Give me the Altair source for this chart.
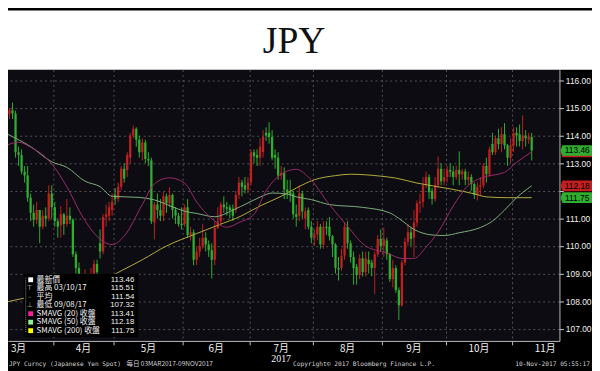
import altair as alt
import pandas as pd

TITLE = "JPY"
FIRST_DAY = 6  # trading-day index of first candle (1 Mar 2017 = 0)

opens = [114.38, 114.95, 114.78, 114.92, 114.80, 113.40, 113.30, 112.70, 112.55, 111.75,
         111.20, 110.95, 111.30, 110.70, 111.10, 111.00, 111.90, 111.40, 110.90, 110.75,
         111.15, 110.80, 111.10, 110.95, 109.70, 109.20, 108.90, 108.60, 108.95, 108.50,
         108.90, 109.35, 110.10, 109.80, 111.05, 111.10, 111.30, 111.85, 111.70, 112.15,
         112.80, 112.75, 113.20, 114.00, 114.25, 113.85, 113.40, 113.75, 113.15, 113.10,
         110.85, 111.50, 111.30, 111.10, 111.80, 111.55, 111.85, 111.30, 111.10, 110.80,
         110.80, 111.40, 110.40, 110.50, 109.50, 109.80, 110.00, 110.30, 110.05, 109.85,
         109.50, 110.65, 110.90, 111.50, 111.40, 111.40, 111.35, 111.30, 111.85, 112.30,
         112.20, 112.05, 112.30, 113.40, 113.30, 113.20, 113.40, 114.10, 114.10, 113.95,
         113.30, 113.20, 112.55, 112.65, 112.05, 111.95, 111.90, 111.15, 111.10, 111.90,
         111.00, 111.30, 110.70, 110.30, 110.40, 110.70, 110.05, 110.70, 110.70, 110.35,
         110.05, 109.20, 109.20, 109.65, 110.70, 110.10, 109.60, 109.25, 108.95, 109.55,
         109.05, 109.50, 109.40, 109.20, 109.70, 110.25, 110.00, 110.20, 109.70, 108.80,
         109.20, 108.40, 107.85, 109.40, 110.15, 110.50, 110.30, 110.85, 111.55, 111.60,
         112.20, 112.50, 112.00, 111.70, 112.20, 112.80, 112.35, 112.50, 112.75, 112.70,
         112.50, 112.75, 112.60, 112.70, 112.40, 112.50, 112.25, 111.85, 112.15, 112.20,
         112.90, 112.60, 113.70, 113.40, 113.90, 113.70, 114.05, 113.65, 113.20, 113.65,
         114.10, 114.05, 113.80, 114.00, 113.85, 113.95]
highs = [115.10, 115.51, 115.00, 115.20, 114.90, 113.60, 113.50, 112.90, 112.90, 111.90,
         111.50, 111.60, 111.30, 111.30, 111.40, 112.20, 112.20, 111.60, 111.00, 111.45,
         111.20, 111.70, 111.40, 111.00, 109.80, 109.40, 109.00, 109.15, 109.00, 109.20,
         109.50, 109.50, 110.60, 111.15, 111.50, 111.60, 111.90, 112.10, 112.30, 112.90,
         113.00, 113.40, 114.10, 114.37, 114.30, 114.00, 113.90, 113.85, 113.40, 113.20,
         111.60, 111.90, 111.70, 111.95, 111.90, 112.13, 111.90, 111.40, 111.20, 111.40,
         111.50, 111.70, 110.70, 110.60, 110.00, 110.30, 110.80, 110.50, 110.20, 110.10,
         110.90, 111.40, 111.60, 111.80, 111.60, 111.50, 111.50, 112.00, 112.50, 112.40,
         112.50, 112.50, 113.50, 113.50, 113.50, 113.90, 114.20, 114.30, 114.49, 114.20,
         113.50, 113.40, 112.90, 112.85, 112.40, 112.40, 112.00, 111.50, 112.20, 112.00,
         111.40, 111.40, 110.90, 110.60, 110.90, 110.80, 110.90, 110.90, 111.05, 110.40,
         110.10, 109.60, 109.90, 110.85, 110.90, 110.20, 109.80, 109.35, 109.70, 109.80,
         109.80, 109.80, 109.50, 109.80, 110.40, 110.60, 110.67, 110.30, 109.75, 109.50,
         109.30, 108.50, 109.50, 110.30, 110.80, 110.70, 111.30, 111.65, 111.90, 112.50,
         112.70, 112.60, 112.10, 112.50, 113.25, 113.00, 112.80, 112.90, 113.00, 112.90,
         112.90, 113.43, 112.80, 112.80, 112.70, 112.60, 112.30, 112.30, 112.50, 113.00,
         113.20, 113.60, 114.10, 114.00, 114.25, 114.30, 114.45, 113.70, 113.90, 114.30,
         114.30, 114.40, 114.73, 114.20, 114.10, 114.10]
lows = [114.30, 114.60, 114.60, 114.60, 113.20, 112.90, 112.60, 112.30, 111.60, 110.90,
        110.70, 110.80, 110.10, 110.60, 110.70, 110.90, 111.00, 110.70, 110.30, 110.30,
        110.40, 110.70, 110.80, 109.60, 109.00, 108.70, 108.15, 108.30, 108.20, 108.30,
        108.60, 108.90, 109.55, 109.70, 110.70, 110.90, 111.10, 111.50, 111.60, 112.00,
        112.30, 112.50, 113.00, 113.90, 113.60, 113.20, 113.10, 113.00, 112.90, 110.80,
        110.24, 111.00, 110.90, 110.90, 111.20, 111.40, 111.00, 110.80, 110.70, 110.60,
        110.70, 110.30, 110.20, 109.30, 109.30, 109.60, 109.90, 109.80, 109.60, 108.82,
        109.30, 110.60, 110.80, 111.20, 111.10, 111.00, 110.90, 111.20, 111.70, 111.80,
        111.90, 111.90, 112.20, 113.00, 112.90, 112.90, 113.20, 113.80, 113.70, 113.10,
        112.80, 112.40, 112.40, 111.70, 111.70, 111.60, 111.00, 110.70, 110.90, 111.00,
        110.60, 110.60, 110.10, 110.00, 110.20, 109.90, 109.90, 110.40, 110.20, 109.60,
        109.00, 108.75, 109.10, 109.50, 109.90, 109.40, 108.60, 108.60, 108.80, 108.90,
        108.90, 109.00, 108.90, 108.26, 109.60, 109.80, 109.60, 109.50, 108.70, 108.50,
        108.30, 107.32, 107.80, 109.30, 110.00, 110.00, 109.60, 110.70, 111.20, 111.40,
        112.10, 111.70, 111.50, 111.60, 112.10, 112.20, 112.20, 112.30, 112.50, 112.20,
        112.40, 112.20, 112.40, 112.20, 112.20, 112.00, 111.70, 111.65, 111.80, 112.10,
        112.30, 112.50, 113.30, 113.30, 113.50, 113.40, 113.50, 112.90, 113.00, 113.40,
        113.60, 113.60, 113.50, 113.60, 113.70, 113.10]
closes = [114.95, 114.82, 114.92, 114.80, 113.40, 113.30, 112.70, 112.55, 111.75, 111.20,
          110.95, 111.30, 110.70, 111.10, 111.00, 111.90, 111.40, 110.90, 110.70, 111.15,
          110.80, 111.10, 110.95, 109.70, 109.20, 108.90, 108.60, 108.95, 108.50, 108.90,
          109.35, 109.05, 109.80, 111.05, 111.15, 111.40, 111.60, 111.70, 112.15, 112.80,
          112.45, 113.30, 114.00, 114.25, 113.85, 113.40, 113.75, 113.15, 113.10, 110.90,
          111.50, 111.30, 111.10, 111.80, 111.55, 111.85, 111.30, 111.10, 110.80, 110.75,
          111.40, 110.40, 110.50, 109.50, 109.80, 110.00, 110.30, 110.05, 109.85, 109.50,
          110.65, 110.90, 111.50, 111.40, 111.35, 111.30, 111.10, 111.85, 112.30, 112.15,
          112.05, 112.30, 113.40, 113.25, 113.20, 113.60, 113.95, 114.00, 113.95, 113.20,
          113.20, 112.55, 112.65, 112.05, 111.95, 111.85, 111.15, 111.05, 111.90, 111.25,
          111.25, 110.70, 110.30, 110.40, 110.70, 110.05, 110.70, 110.65, 110.35, 110.05,
          109.20, 109.15, 109.65, 110.70, 110.10, 109.60, 109.20, 108.95, 109.55, 109.05,
          109.55, 109.35, 109.20, 109.70, 110.25, 110.00, 110.25, 109.70, 108.80, 109.20,
          108.40, 107.85, 109.40, 110.15, 110.50, 110.25, 110.85, 111.55, 111.60, 112.20,
          112.50, 111.95, 111.70, 112.20, 112.80, 112.35, 112.50, 112.75, 112.70, 112.50,
          112.75, 112.60, 112.70, 112.40, 112.50, 112.25, 111.85, 112.15, 112.20, 112.90,
          112.60, 113.50, 113.40, 113.90, 113.70, 114.05, 113.65, 113.20, 113.65, 114.10,
          114.00, 113.80, 114.00, 113.90, 113.95, 113.46]
days = list(range(FIRST_DAY, FIRST_DAY + len(closes)))

# moving averages (trading-day index, value)
ma20_days = [6, 11, 15, 21, 27, 32, 38, 42, 46, 52, 56, 61, 66, 70, 76, 80, 84, 89, 93, 99,
             103, 107, 114, 120, 126, 133, 138, 142, 146, 150, 155, 160, 165, 172, 176, 181]
ma20_vals = [113.60, 113.76, 113.58, 113.10, 112.15, 111.10, 110.25, 110.05, 110.36, 111.50,
             112.25, 112.47, 112.28, 111.60, 110.90, 110.68, 110.85, 111.15, 112.00, 112.66,
             112.78, 112.50, 111.50, 110.71, 110.00, 109.75, 109.55, 109.55, 109.96, 110.50,
             111.45, 112.20, 112.49, 112.67, 113.03, 113.41]
ma50_days = [6, 15, 22, 27, 33, 38, 42, 51, 56, 62, 66, 70, 76, 82, 87, 91, 95, 100, 103, 108,
             114, 125, 134, 137, 142, 148, 152, 157, 164, 168, 172, 176, 181]
ma50_vals = [114.12, 113.60, 113.05, 112.85, 112.35, 112.15, 111.80, 111.76, 111.67, 111.42,
             111.26, 111.18, 111.06, 111.30, 111.56, 111.77, 111.92, 111.88, 111.78, 111.68,
             111.50, 111.40, 111.20, 111.00, 110.60, 110.40, 110.38, 110.48, 110.67, 110.90,
             111.30, 111.75, 112.18]
ma200_days = [6, 21, 38, 45, 52, 60, 70, 77, 85, 91, 98, 103, 109, 116, 121, 131, 136, 143,
              154, 162, 166, 173, 181]
ma200_vals = [107.95, 108.30, 108.70, 109.10, 109.50, 110.00, 110.45, 110.75, 111.10, 111.45,
              111.80, 112.10, 112.40, 112.55, 112.60, 112.53, 112.46, 112.28, 112.07, 111.89,
              111.78, 111.75, 111.75]

month_labels = ["3月", "4月", "5月", "6月", "7月", "8月", "9月", "10月", "11月"]
month_mid = [11, 32.5, 54, 76.5, 98, 120, 142, 163.5, 185.5]
month_starts = [22.5, 42.5, 65.5, 87.5, 108.5, 131.5, 152.5, 174.5]
year_label = ["2017"]
year_mid = [98]
price_ticks = [107, 108, 109, 110, 111, 112, 113, 114, 115, 116]

legend_labels = ["最新價", "最高 03/10/17", "平均", "最低 09/08/17",
                 "SMAVG (20) 收盤", "SMAVG (50) 收盤", "SMAVG (200) 收盤"]
legend_values = ["113.46", "115.51", "111.54", "107.32", "113.41", "112.18", "111.75"]
legend_glyphs = ["", "T", "–", "⊥", "", "", ""]

box_values = [113.41, 113.46, 112.18, 111.75]
box_kinds = ["ma20", "last", "ma50", "ma200"]

footer_left = "JPY Curncy (Japanese Yen Spot)"
footer_mid = "每日 03MAR2017-09NOV2017"
footer_copy = "Copyright© 2017 Bloomberg Finance L.P."
footer_time = "10-Nov-2017 05:55:17"

# ---------------- styling ----------------
RED, GREEN = "#ff2626", "#3ef03e"
RED_W, GREEN_W = "#c02020", "#2fae2f"
C20, C50, C200 = "#9c2c6a", "#7fb07f", "#b6ae3e"
GRID = "#555555"
W, H = 559, 275                      # plot area
PAD_T, PAD_R, PAD_B = 60, 33, 28     # whole chart = 592 x 363

x_scale = alt.Scale(domain=[7.5, 190.2], nice=False, zero=False, padding=0)
y_scale = alt.Scale(domain=[106.56, 116.39], nice=False, zero=False, padding=0)
x_axis = alt.Axis(values=month_starts, labels=False, title=None, ticks=True, tickSize=4,
                  tickColor="#bbbbbb", domainColor="#bbbbbb", grid=True, gridColor=GRID,
                  gridDash=[2, 3], gridWidth=1)
y_axis = alt.Axis(orient="right", values=price_ticks, format=".2f", title=None,
                  labelExpr="datum.value == 112 ? '' : datum.label",
                  labelColor="#f0f0f0", labelFont="Liberation Sans", labelFontSize=8.5,
                  labelPadding=2, tickSize=4, tickColor="#cccccc", domainColor="#bbbbbb",
                  grid=True, gridColor=GRID, gridDash=[2, 3], gridWidth=1)


def X(field):
    return alt.X(f"{field}:Q", scale=x_scale, axis=x_axis)


def Y(field):
    return alt.Y(f"{field}:Q", scale=y_scale, axis=y_axis)


candles = pd.DataFrame({"n": days, "open": opens, "high": highs, "low": lows, "close": closes})
base = alt.Chart(candles).transform_calculate(
    dir="datum.close >= datum.open ? 'up' : 'down'")

wicks = base.mark_rule(strokeWidth=1, clip=True).encode(
    x=X("n"), y=Y("low"), y2="high:Q",
    color=alt.Color("dir:N", scale=alt.Scale(domain=["up", "down"], range=[RED_W, GREEN_W]),
                    legend=None))
bodies = base.mark_bar(width=2.3, clip=True).encode(
    x=X("n"), y=Y("open"), y2="close:Q",
    color=alt.Color("dir:N", scale=alt.Scale(domain=["up", "down"], range=[RED, GREEN]),
                    legend=None))


def ma_layer(d, v, color):
    df = pd.DataFrame({"n": d, "val": v})
    return alt.Chart(df).mark_line(color=color, strokeWidth=1, clip=True,
                                   interpolate="monotone").encode(x=X("n"), y=Y("val"))


ma200 = ma_layer(ma200_days, ma200_vals, C200)
ma50 = ma_layer(ma50_days, ma50_vals, C50)
ma20 = ma_layer(ma20_days, ma20_vals, C20)

months_df = pd.DataFrame({"mid": month_mid, "label": month_labels})
months = alt.Chart(months_df).mark_text(color="#f2f2f2", font="Noto Sans CJK TC", fontSize=10,
                                        baseline="middle", align="center").encode(
    x=X("mid"), y=alt.value(H + 8), text="label:N")
year_df = pd.DataFrame({"mid": year_mid, "label": year_label})
year = alt.Chart(year_df).mark_text(color="#f2f2f2", font="Liberation Serif", fontSize=10,
                                    baseline="middle", align="center").encode(
    x=X("mid"), y=alt.value(H + 18), text="label:N")

one = pd.DataFrame({"k": [0]})

# white band with title above the Bloomberg panel
white_band = alt.Chart(one).mark_rect(color="#ffffff").encode(
    x=alt.value(0), x2=alt.value(W + PAD_R), y=alt.value(-PAD_T), y2=alt.value(0))
title = alt.Chart(pd.DataFrame({"t": [TITLE]})).mark_text(
    font="Liberation Serif", fontSize=38, color="#111111", align="center",
    baseline="alphabetic").encode(x=alt.value(290), y=alt.value(-17), text="t:N")

# right-axis value boxes
boxes_df = pd.DataFrame({"val": box_values, "kind": box_kinds,
                         "label": [f"{v:.2f}" for v in box_values]})
box_shape = "M-1.12,0L-1,-0.36L1,-0.36L1,0.36L-1,0.36Z"
boxes = alt.Chart(boxes_df).mark_point(shape=box_shape, filled=True, size=900, opacity=1,
                                       strokeWidth=0).encode(
    x=alt.value(W + 18), y=Y("val"),
    color=alt.Color("kind:N", scale=alt.Scale(domain=["ma20", "last", "ma50", "ma200"],
                                              range=["#e0288c", "#ffffff", "#8cf08c", "#ffff33"]),
                    legend=None))
box_text = alt.Chart(boxes_df).transform_filter("datum.kind != 'ma20'").mark_text(
    font="Liberation Sans", fontSize=8.5, color="#000000", align="center",
    baseline="middle").encode(x=alt.value(W + 18), y=Y("val"), text="label:N")

# legend box (bottom-left, inside the plot)
legend_layers = [
    alt.Chart(one).mark_rect(color="#000000").encode(
        x=alt.value(16), x2=alt.value(132), y=alt.value(207), y2=alt.value(271)),
    alt.Chart(one).mark_rule(color="#888888", strokeDash=[1, 1], strokeWidth=1).encode(
        x=alt.value(18), y=alt.value(211), y2=alt.value(266)),
]
row_y0, row_dy = 213, 8.6
square_colors = ["#ffffff", None, None, None, "#ff1aa0", "#8cf58c", "#ffff00"]
for i, (lab, val, gly) in enumerate(zip(legend_labels, legend_values, legend_glyphs)):
    ry = row_y0 + i * row_dy
    rowdf = pd.DataFrame({"lab": [lab], "val": [val], "gly": [gly]})
    legend_layers.append(alt.Chart(rowdf).mark_text(
        font="Noto Sans CJK TC", fontSize=8, color="#f0f0f0", align="left",
        baseline="middle").encode(x=alt.value(29), y=alt.value(ry), text="lab:N"))
    legend_layers.append(alt.Chart(rowdf).mark_text(
        font="Liberation Sans", fontSize=8, color="#f0f0f0", align="right",
        baseline="middle").encode(x=alt.value(128), y=alt.value(ry), text="val:N"))
    if square_colors[i]:
        legend_layers.append(alt.Chart(rowdf).mark_square(
            color=square_colors[i], size=24, opacity=1, filled=True).encode(
            x=alt.value(23), y=alt.value(ry)))
    elif gly:
        legend_layers.append(alt.Chart(rowdf).mark_text(
            font="DejaVu Sans", fontSize=7, color="#999999", align="center",
            baseline="middle").encode(x=alt.value(22), y=alt.value(ry), text="gly:N"))

# footer
foot_y = H + 23
foot_style = dict(font="DejaVu Sans Mono", fontSize=6.3, color="#d0d0d0", baseline="middle")
footers = [
    alt.Chart(pd.DataFrame({"t": [footer_left]})).mark_text(align="left", **foot_style).encode(
        x=alt.value(1), y=alt.value(foot_y), text="t:N"),
    alt.Chart(pd.DataFrame({"t": [footer_mid]})).mark_text(
        align="left", font="Noto Sans CJK TC", fontSize=6.6, color="#d0d0d0",
        baseline="middle").encode(x=alt.value(120), y=alt.value(foot_y), text="t:N"),
    alt.Chart(pd.DataFrame({"t": [footer_copy]})).mark_text(align="left", **foot_style).encode(
        x=alt.value(289), y=alt.value(foot_y), text="t:N"),
    alt.Chart(pd.DataFrame({"t": [footer_time]})).mark_text(align="right", **foot_style).encode(
        x=alt.value(W + PAD_R - 2), y=alt.value(foot_y), text="t:N"),
]

chart = alt.layer(
    wicks, bodies, ma200, ma50, ma20, months, year, boxes, box_text,
    *legend_layers, *footers, white_band, title
).properties(
    width=W, height=H,
    autosize=alt.AutoSizeParams(type="none"),
    padding={"left": 0, "top": PAD_T, "right": PAD_R, "bottom": PAD_B},
    background="#000000",
).configure_view(fill="#0c0c12", stroke=None)

chart.save("out.html", embed_options={"renderer": "svg", "actions": False})
